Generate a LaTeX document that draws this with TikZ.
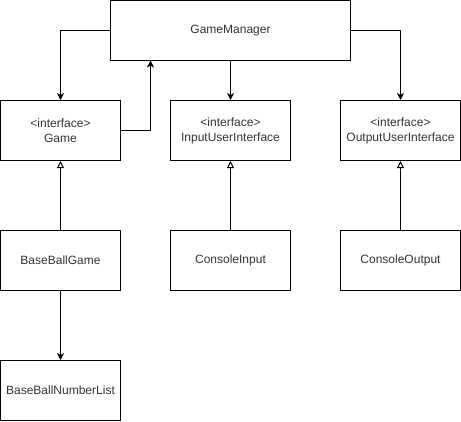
\documentclass[tikz,border=0pt]{standalone}
\usepackage{fontspec}
\setmainfont{Liberation Sans}
\usetikzlibrary{arrows.meta}
\begin{document}
\begin{tikzpicture}[x=1bp,y=-1bp,
  box/.style={draw=black,line width=1bp,fill=white,minimum width=120bp,minimum height=60bp,inner sep=0pt,align=center,font=\fontsize{12bp}{15bp}\selectfont,text=black!80},
  arr/.style={line width=1bp,-{Stealth[length=7bp,width=7bp,inset=2bp]}},
  impl/.style={line width=1bp,-{Triangle[open,length=7bp,width=7bp,fill=white]}}]
\useasboundingbox (-0.5,-0.5) rectangle (460.5,420.5);
\node[box,minimum width=240bp] (gm) at (230,30) {GameManager};
\node[box] (game) at (60,130) {<interface>\\Game};
\node[box] (input) at (230,130) {<interface>\\InputUserInterface};
\node[box] (output) at (400,130) {<interface>\\OutputUserInterface};
\node[box] (bbg) at (60,260) {BaseBallGame};
\node[box] (cin) at (230,260) {ConsoleInput};
\node[box] (cout) at (400,260) {ConsoleOutput};
\node[box] (bbnl) at (60,390) {BaseBallNumberList};
\coordinate (gmin) at (150,60);
\draw[arr] (gm.west) -| (game.north);
\draw[arr] (game.east) -| (gmin);
\draw[arr] (gm.south) -- (input.north);
\draw[arr] (gm.east) -| (output.north);
\draw[impl] (bbg.north) -- (game.south);
\draw[impl] (cin.north) -- (input.south);
\draw[impl] (cout.north) -- (output.south);
\draw[arr] (bbg.south) -- (bbnl.north);
\end{tikzpicture}
\end{document}
